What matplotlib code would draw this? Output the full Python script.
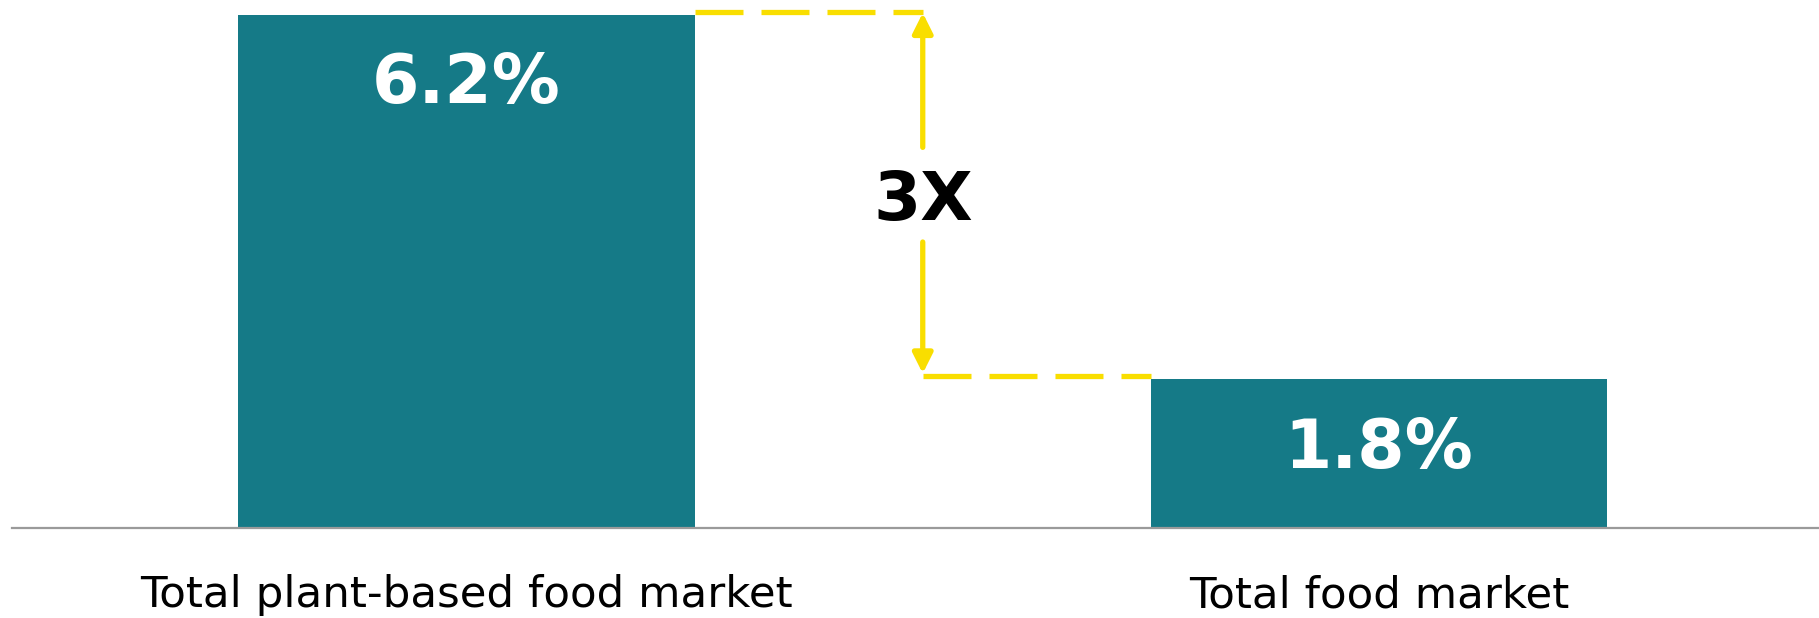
import matplotlib
matplotlib.use("Agg")
import matplotlib.pyplot as plt

categories = ["Total plant-based food market", "Total food market"]
values = [6.2, 1.8]
value_labels = ["6.2%", "1.8%"]
ratio_label = "3X"

BAR_COLOR = "#157A87"
YELLOW = "#F9DE00"
AXIS_GRAY = "#9A9A9A"

W, H, DPI = 1819, 618, 100
fig = plt.figure(figsize=(W / DPI, H / DPI), dpi=DPI, facecolor="white")
ax = fig.add_axes([0, 0, 1, 1])
ax.set_facecolor("white")

# Map: baseline at pixel row 528, 82.75 px per unit; bar centres at px 466.5 and 1379
ppu = 82.75
ax.set_ylim(-(H - 528) / ppu, 528 / ppu)
ax.set_xlim(-466.5 / 912.5, 1 + (W - 1379) / 912.5)
ax.axis("off")

x = list(range(len(values)))
bar_w = 0.5
ax.bar(x, values, width=bar_w, color=BAR_COLOR, zorder=2)

# baseline
ax.axhline(0, xmin=12 / W, xmax=1, color=AXIS_GRAY, lw=1.6, zorder=3)

# value labels
for xi, v, lab in zip(x, values, value_labels):
    ax.text(xi, v - 1.07, lab, ha="center", va="baseline", color="white",
            fontsize=49, fontweight="bold", family="DejaVu Sans", zorder=4)

# category labels
for xi, c in zip(x, categories):
    ax.text(xi, -0.955, c, ha="center", va="baseline", color="black",
            fontsize=31.3, family="DejaVu Sans", zorder=4)

# comparison annotation
xm = (x[0] + x[1]) / 2
hi = values[0] + 0.035
lo = values[1] + 0.037
lw = 3.8
dash = (0, (48 / 1.389 / lw, 18 / 1.389 / lw))
ax.plot([x[0] + bar_w / 2, xm], [hi, hi], color=YELLOW, lw=lw, ls=dash,
        solid_capstyle="butt", dash_capstyle="butt", zorder=3)
ax.plot([xm, x[1] - bar_w / 2], [lo, lo], color=YELLOW, lw=lw, ls=dash,
        solid_capstyle="butt", dash_capstyle="butt", zorder=3)

label_base = 3.72
ax.text(xm, label_base, ratio_label, ha="center", va="baseline", color="black",
        fontsize=49, fontweight="bold", family="DejaVu Sans", zorder=4)

astyle = "-|>,head_length=1.2,head_width=0.6"
ax.annotate("", xy=(xm, hi - 0.01), xytext=(xm, 4.60),
            arrowprops=dict(arrowstyle=astyle, color=YELLOW, lw=lw,
                            shrinkA=0, shrinkB=0, mutation_scale=10), zorder=3)
ax.annotate("", xy=(xm, lo + 0.03), xytext=(xm, 3.456),
            arrowprops=dict(arrowstyle=astyle, color=YELLOW, lw=lw,
                            shrinkA=0, shrinkB=0, mutation_scale=10), zorder=3)

fig.savefig("out.png", dpi=DPI, facecolor="white")
